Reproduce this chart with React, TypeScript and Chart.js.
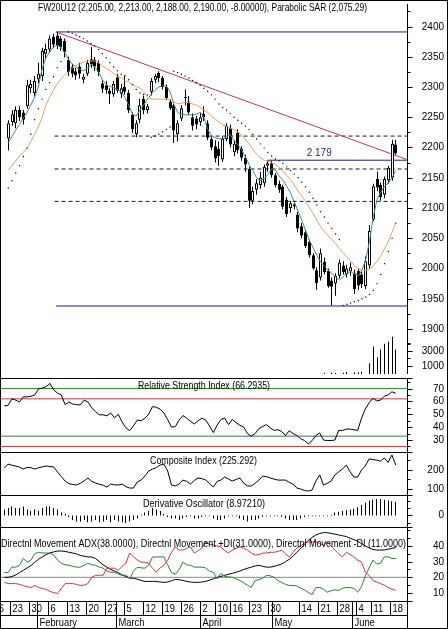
import React, { useEffect, useRef } from 'react';
import { Chart, registerables } from 'chart.js';

Chart.register(...registerables);

const FONT = '"Liberation Sans", Arial, sans-serif';

// ---------------- data (one entry per trading day, 19 Jan 2012 .. 19 Jun 2012) ----------------
const openP = [
  2215, 2242, 2240, 2262, 2258, 2268, 2298, 2290, 2313, 2318,
  2355, 2362, 2383, 2385, 2380, 2376, 2345, 2333, 2326, 2334,
  2312, 2322, 2346, 2345, 2340, 2306, 2303, 2294, 2288, 2316,
  2289, 2300, 2290, 2254, 2222, 2246, 2280, 2262, 2292, 2312,
  2323, 2315, 2300, 2276, 2270, 2222, 2248, 2282, 2276, 2250,
  2248, 2242, 2256, 2240, 2214, 2202, 2198, 2180, 2214, 2232,
  2192, 2224, 2198, 2183, 2165, 2112, 2130, 2138, 2141, 2170,
  2174, 2154, 2140, 2135, 2114, 2100, 2103, 2089, 2070, 2060,
  2044, 2022, 1997, 1985, 2011, 1996, 1980, 1975, 1988, 2005,
  1990, 1995, 1992, 1996, 1990, 1971, 2005, 2081, 2148, 2138,
  2122, 2146, 2150, 2205,
];
const highP = [
  2245, 2262, 2268, 2268, 2262, 2312, 2312, 2318, 2340, 2365,
  2372, 2385, 2388, 2391, 2384, 2380, 2350, 2338, 2332, 2340,
  2322, 2345, 2366, 2350, 2344, 2312, 2310, 2298, 2310, 2322,
  2305, 2318, 2295, 2258, 2245, 2280, 2286, 2272, 2315, 2322,
  2326, 2318, 2304, 2280, 2272, 2245, 2270, 2296, 2285, 2256,
  2252, 2258, 2268, 2245, 2218, 2212, 2210, 2218, 2240, 2238,
  2212, 2230, 2202, 2188, 2168, 2135, 2148, 2160, 2172, 2179,
  2178, 2158, 2145, 2138, 2118, 2112, 2112, 2094, 2075, 2064,
  2048, 2025, 2002, 2033, 2018, 2000, 1985, 1992, 2015, 2012,
  2006, 2010, 1998, 2000, 1995, 2020, 2072, 2140, 2160, 2142,
  2152, 2170, 2213, 2213,
];
const lowP = [
  2195, 2236, 2232, 2244, 2238, 2264, 2290, 2284, 2306, 2310,
  2345, 2356, 2364, 2363, 2360, 2350, 2318, 2316, 2312, 2314,
  2306, 2318, 2332, 2327, 2318, 2290, 2289, 2272, 2284, 2290,
  2282, 2287, 2257, 2224, 2217, 2240, 2255, 2256, 2286, 2306,
  2308, 2296, 2278, 2262, 2208, 2210, 2244, 2270, 2254, 2228,
  2230, 2236, 2244, 2212, 2196, 2175, 2170, 2176, 2210, 2200,
  2186, 2190, 2178, 2160, 2100, 2106, 2122, 2132, 2135, 2160,
  2150, 2134, 2125, 2098, 2085, 2092, 2098, 2060, 2050, 2034,
  2018, 1998, 1965, 1980, 1990, 1968, 1939, 1955, 1984, 1990,
  1985, 1988, 1958, 1965, 1968, 1966, 2000, 2078, 2128, 2112,
  2116, 2140, 2145, 2188,
];
const closeP = [
  2240, 2255, 2262, 2250, 2246, 2303, 2305, 2310, 2322, 2360,
  2363, 2380, 2370, 2368, 2366, 2358, 2325, 2322, 2319, 2322,
  2317, 2340, 2337, 2334, 2325, 2297, 2295, 2289, 2305, 2294,
  2298, 2292, 2262, 2230, 2240, 2270, 2262, 2268, 2310, 2318,
  2315, 2300, 2282, 2265, 2228, 2240, 2265, 2283, 2258, 2236,
  2238, 2250, 2250, 2216, 2200, 2182, 2186, 2214, 2236, 2205,
  2206, 2195, 2183, 2172, 2112, 2128, 2141, 2150, 2168, 2174,
  2154, 2138, 2130, 2102, 2090, 2108, 2106, 2066, 2054, 2037,
  2022, 2000, 1976, 2025, 1994, 1971, 1970, 1988, 2010, 1994,
  2000, 2002, 1966, 1972, 1974, 2012, 2062, 2136, 2134, 2118,
  2148, 2166, 2206, 2190,
];
const maShort = [
  2208, 2218, 2229, 2238, 2249, 2258, 2270, 2283, 2300, 2330,
  2348, 2358, 2366, 2369, 2366, 2357, 2346, 2338, 2333, 2329,
  2327, 2331, 2337, 2333, 2325, 2312, 2304, 2301, 2299, 2296,
  2292, 2283, 2270, 2255, 2252, 2262, 2270, 2280, 2288, 2295,
  2300, 2302, 2302, 2292, 2272, 2258, 2255, 2254, 2254, 2254,
  2255, 2258, 2250, 2230, 2220, 2216, 2215, 2214, 2218, 2221,
  2212, 2205, 2196, 2185, 2172, 2162, 2150, 2145, 2149, 2155,
  2165, 2163, 2153, 2146, 2136, 2125, 2110, 2095, 2080, 2063,
  2047, 2035, 2022, 2011, 2004, 1997, 1992, 1986, 1981, 1986,
  1992, 1995, 1991, 1988, 1997, 2015, 2045, 2085, 2114, 2126,
  2136, 2141, 2150, 2162,
];
const maLong = [
  2163, 2170, 2178, 2186, 2192, 2199, 2210, 2222, 2234, 2250,
  2270, 2283, 2295, 2305, 2313, 2320, 2325, 2331, 2335, 2338,
  2341, 2343, 2343, 2343, 2340, 2335, 2331, 2327, 2322, 2318,
  2315, 2311, 2308, 2304, 2301, 2298, 2292, 2284, 2280, 2280,
  2280, 2280, 2280, 2280, 2276, 2272, 2273, 2275, 2274, 2272,
  2270, 2266, 2262, 2258, 2252, 2247, 2242, 2238, 2235, 2232,
  2229, 2226, 2220, 2214, 2206, 2197, 2189, 2183, 2179, 2177,
  2175, 2172, 2167, 2161, 2154, 2147, 2138, 2128, 2120, 2111,
  2101, 2091, 2080, 2069, 2061, 2054, 2048, 2041, 2033, 2026,
  2018, 2012, 2005, 2000, 1997, 1997, 1999, 2004, 2012, 2021,
  2033, 2045, 2060, 2076,
];
const sarP = [
  2133, 2145, 2158, 2170, 2185, 2199, 2222, 2246, 2264, 2280,
  2296, 2307, 2317, 2332, 2342, 2350, 2391, 2389, 2386, 2383,
  2380, 2376, 2372, 2368, 2362, 2355, 2348, 2340, 2333, 2327,
  2321, 2319, 2312, 2304, 2296, 2290, 2288, 2287, 2217, 2219,
  2222, 2226, 2230, 2234, 2326, 2324, 2321, 2318, 2315, 2311,
  2307, 2303, 2298, 2293, 2287, 2280, 2272, 2266, 2262, 2256,
  2250, 2245, 2240, 2235, 2230, 2222, 2214, 2206, 2199, 2192,
  2186, 2181, 2178, 2174, 2168, 2162, 2156, 2150, 2143, 2135,
  2126, 2116, 2105, 2094, 2085, 2075, 2066, 2057, 2048, 1939,
  1941, 1943, 1945, 1947, 1950, 1953, 1957, 1964, 1975, 1990,
  2008, 2028, 2050, 2075,
];
const volumeK = [
  null, null, null, null, null, null, null, null, null, null,
  null, null, null, null, null, null, null, null, null, null,
  null, null, null, null, null, null, null, null, null, null,
  null, null, null, null, null, null, null, null, null, null,
  null, null, null, null, null, null, null, null, null, null,
  null, null, null, null, null, null, null, null, null, null,
  null, null, null, null, null, null, null, null, null, null,
  null, null, null, null, null, null, null, null, null, null,
  null, null, null, null, 150, null, 200, 120, null, 150,
  250, null, 180, 220, 300, null, 1375, 3500, 2125, 3125,
  3875, 4125, 4750, 3125,
];
const rsiV = [
  56.5, 57, 62, 61, 59.6, 63.5, 63.5, 64, 65, 69.6,
  70.4, 71.5, 74, 69, 66.5, 65, 57.5, 59.6, 58, 57.5,
  57.3, 61, 59.6, 55, 52, 49.6, 49.6, 48.8, 51, 47.3,
  50, 44, 39.5, 37.3, 41, 45.5, 45, 47, 50, 56,
  55.5, 54, 51, 45.8, 40, 40.5, 45.5, 49, 47, 44.5,
  42.5, 45, 47, 45.5, 41, 35.8, 41.5, 46, 47, 42,
  46, 43.5, 41.5, 40, 35, 33, 35, 39, 40.5, 42,
  39.5, 37.5, 38, 36.5, 33.5, 37.3, 35, 33.5, 31, 29.6,
  27, 29.5, 33.5, 35.5, 30, 29.6, 29.6, 30, 37.5, 37.5,
  38.5, 38.5, 38, 37.5, 47, 54, 59, 62.5, 60.4, 61,
  64, 65, 67.5, 66.3,
];
const compositeV = [
  210, 231, 225, 221, 215, 205, 214, 212, 205, 212,
  216, 221, 218, 216, 190, 165, 142, 128, 124, 121,
  130, 142, 158, 140, 132, 125, 120, 110, 126, 122,
  121, 126, 112, 105, 105, 137, 147, 168, 195, 205,
  212, 226, 231, 195, 120, 116, 126, 147, 140, 126,
  145, 158, 155, 147, 130, 110, 140, 147, 163, 152,
  142, 150, 158, 130, 116, 116, 130, 147, 168, 165,
  158, 152, 147, 147, 147, 135, 125, 105, 100, 92,
  89, 95, 142, 174, 121, 130, 142, 174, 190, 205,
  226, 190, 163, 163, 200, 221, 258, 255, 252, 247,
  263, 240, 279, 226,
];
const derivV = [
  4, 5, 6, 5, 5, 6, 4, 3, 4, 3,
  5, 6, 6, 5, 4, 2, 1, -1, -3, -4,
  -4, -3, -4.5, -4, -3, -4.5, -4, -3, -4.5, -3,
  -4, -4.5, -5, -4, -3, -2, 0.5, 2, 3, 5,
  4, 3, 1, -1, -2, -2, -3, -2, -1, -0.5,
  -2, -2, -1, -0.5, -0.5, -2, -3, -3, -2, -0.5,
  -0.5, -0.5, -2, -3, -4, -3, -3, -2, -1, -0.5,
  -0.5, -0.5, -0.5, -1, -2, -3, -3, -3, -2, -1,
  -0.5, -0.5, -0.5, -0.5, -0.5, -0.5, 0.5, 2, 2.5, 3,
  3.5, 4, 4.5, 5.5, 7, 8.5, 10, 10.5, 11, 11,
  10.5, 10, 9.5, 8.97,
];
const adxV = [
  20, 20, 20.5, 21.5, 23, 24.5, 26, 27.5, 29.5, 31.5,
  33, 34.5, 35.5, 36.2, 36.8, 36.8, 36.5, 36, 35.5, 35,
  34, 33.5, 33, 33, 32, 30, 28, 26.5, 25, 24,
  23, 21.5, 20.5, 19.5, 19.4, 18.8, 18, 17.4, 17.4, 17.4,
  17.4, 17, 16.8, 17, 17.8, 18.7, 18.5, 18, 17.4, 17,
  16.8, 16.8, 17, 17.4, 18.2, 19, 20, 20.5, 21.3, 22,
  22.5, 23.2, 24, 25, 25.8, 26.5, 27.2, 27.7, 27, 26.5,
  26.5, 27, 27.7, 28.5, 30, 31.5, 33.5, 36, 38.5, 41,
  43.5, 45.5, 47, 48, 48.5, 48.5, 48, 47.5, 47, 46.5,
  46, 45, 44, 43, 41.5, 40, 38.8, 37.8, 37.4, 37.4,
  37.4, 38, 38.5, 39,
];
const plusDiV = [
  23, 23, 26.5, 26.5, 27.7, 32, 29.7, 31, 35, 36,
  35.5, 35.5, 35.5, 34.2, 31, 29, 28, 27.7, 27, 26.5,
  26.5, 27.7, 29, 28, 27.7, 26.5, 25.8, 24, 23.2, 23.2,
  22, 21.3, 21.5, 19, 24, 26.5, 26, 25.8, 27.7, 33,
  33, 33, 33, 28, 23, 22, 25, 29.7, 28, 27.7,
  26.5, 26.5, 26.5, 26, 24, 23.2, 19, 22.5, 20.6, 20.3,
  20, 19, 18, 16.5, 15, 13.5, 18, 18.5, 19.5, 21.3,
  21, 20, 18, 16.8, 15.5, 14.8, 14.8, 14.5, 13, 12,
  10.3, 9, 13.5, 13.5, 12.5, 10.5, 11.5, 12, 11.6, 13,
  13.5, 13.5, 12.9, 10.5, 14, 21, 26, 31, 28.5, 29,
  33, 33, 32, 32,
];
const minusDiV = [
  16.8, 16, 16, 16, 15.5, 14.8, 14, 13.5, 14.8, 13.5,
  12.9, 12.3, 11, 10.3, 9.7, 12.9, 16, 16, 16, 15.5,
  14.8, 15, 16, 20, 21.3, 21.3, 21.3, 25.8, 25.8, 25.8,
  24.5, 27, 29, 35.5, 33, 31, 29.7, 29.5, 29, 25.8,
  23.2, 26, 27.7, 31, 36, 39.4, 37.4, 37.4, 38.5, 39.4,
  35.5, 37, 38.7, 42.6, 41, 40.6, 40, 39.4, 37, 35.5,
  37.4, 38.5, 39.4, 38.5, 37.4, 35.5, 34.2, 34.5, 35.5, 35.5,
  36, 36, 36.5, 37.4, 35, 33, 36, 38.7, 40, 42,
  42.6, 42.6, 42.6, 41.5, 40.6, 42.6, 40, 37.4, 35, 33,
  36, 34.5, 33, 31, 29.7, 23.2, 21.3, 18, 17, 16,
  15, 13.5, 12.5, 11.6,
];

// reference levels
const peakIdx = 12.7;
const peakHigh = 2391;
const troughLow = 1938;
const fibStartIdx = 12.3;
const fibLevels = [2218.9, 2164.5, 2110.9];
const trendEndValue = 2180;
const resistanceIdx = 69;
const resistanceLevel = 2179;
const resistanceLabelIdx = 82.5;
const rsiGreenLevels = [70, 33];
const rsiRedLevels = [62, 25];
const dmiMidLevel = 20;

// ticks
const priceMajor = [1900, 1950, 2000, 2050, 2100, 2150, 2200, 2250, 2300, 2350, 2400];
const priceMinor = [1875, 1925, 1975, 2025, 2075, 2125, 2175, 2225, 2275, 2325, 2375, 2425];
const volMajor = [1000, 3000];
const volMinor = [2000, 4000];
const rsiMajor = [30, 40, 50, 60, 70];
const rsiMinor = [25, 35, 45, 55, 65, 75];
const ciMajor = [100, 200];
const ciMinor = [150, 250];
const doMajor = [0];
const doMinor = [-5, 5, 10];
const dmiMajor = [10, 20, 30, 40];
const dmiMinor = [15, 25, 35, 45, 50];

// date axis
const dayLabels = ['16', '23', '30', '6', '13', '20', '27', '5', '12', '19', '26', '2', '10', '16', '23', '30', '14', '21', '28', '4', '11', '18'];
const dayLabelIdx = [-3, 2, 7, 12, 17, 22, 27, 32, 37, 42, 47, 52, 56, 60, 65, 70, 78, 83, 88, 93, 97, 102];
const monthLabels = ['February', 'March', 'April', 'May', 'June'];
const monthIdx = [9, 30, 52, 71, 92];

// scale ranges
const X_MIN = -1.13;
const X_MAX = 105.97;
const PRICE_MIN = 1825.6;
const PRICE_MAX = 2437.2;
const VOL_MAX = 47250;
const RSI_MIN = 20.7;
const RSI_MAX = 78.2;
const CI_MIN = 68.4;
const CI_MAX = 294.7;
const DO_MIN = -7.67;
const DO_MAX = 13.67;
const DMI_MIN = 4.9;
const DMI_MAX = 52.1;

const NAVY = '#1f1f80';
const GREEN = '#2f862f';
const RED = '#c23a3a';

// ---------------- helpers ----------------
const pts = (arr: any[]) => arr.map((v, i) => ({ x: i, y: v }));

function hline(ctx: CanvasRenderingContext2D, x1: number, x2: number, y: number) {
  ctx.beginPath();
  ctx.moveTo(x1, y);
  ctx.lineTo(x2, y);
  ctx.stroke();
}
function vline(ctx: CanvasRenderingContext2D, x: number, y1: number, y2: number) {
  ctx.beginPath();
  ctx.moveTo(x, y1);
  ctx.lineTo(x, y2);
  ctx.stroke();
}
function fitText(ctx: CanvasRenderingContext2D, text: string, left: number, cy: number, width: number, size: number, color = '#000') {
  ctx.save();
  ctx.font = `${size}px ${FONT}`;
  ctx.fillStyle = color;
  ctx.textBaseline = 'middle';
  ctx.textAlign = 'left';
  const w = ctx.measureText(text).width;
  ctx.translate(left, cy);
  ctx.scale(width / w, 1);
  ctx.fillText(text, 0, 0);
  ctx.restore();
}
function scaledText(ctx: CanvasRenderingContext2D, text: string, left: number, cy: number, size: number, sx: number) {
  ctx.save();
  ctx.font = `${size}px ${FONT}`;
  ctx.fillStyle = '#000';
  ctx.textBaseline = 'middle';
  ctx.textAlign = 'left';
  ctx.translate(left, cy);
  ctx.scale(sx, 1);
  ctx.fillText(text, 0, 0);
  ctx.restore();
}

const refLine = (x0: number, x1: number, v: number, color: string, dash: number[] = [], yAxisID = 'y') => ({
  type: 'line',
  data: [{ x: x0, y: v }, { x: x1, y: v }],
  borderColor: color,
  borderWidth: 1,
  borderDash: dash,
  pointRadius: 0,
  yAxisID,
  order: 20,
});

const lineDs = (arr: number[], color: string, order = 1) => ({
  type: 'line',
  data: pts(arr),
  borderColor: color,
  borderWidth: 1,
  pointRadius: 0,
  tension: 0,
  order,
});

// pixel-snap bar centres so 1px / 3px bars render crisp (positions still come from the x scale)
const snapBars = {
  id: 'snapBars',
  beforeDatasetsDraw(chart: any) {
    chart.data.datasets.forEach((ds: any, i: number) => {
      const meta = chart.getDatasetMeta(i);
      if (meta.type !== 'bar') return;
      meta.data.forEach((el: any) => {
        if (el && typeof el.x === 'number' && !el.$snapped) {
          el.x = Math.floor(el.x) + 0.5;
          el.$snapped = true;
        }
      });
    });
  },
};

type AxisSpec = { id: string; major: number[]; minor: number[]; labels: boolean };

function panelPlugin(p: { title: string; tx: number; tw: number; ty: number; axes: AxisSpec[]; isTop?: boolean; extra?: (chart: any, axisX: number) => void }) {
  return {
    id: 'panelDeco',
    afterDraw(chart: any) {
      const ctx = chart.ctx as CanvasRenderingContext2D;
      const area = chart.chartArea;
      const W = chart.width;
      const H = chart.height;
      const axisX = Math.round(area.right) + 0.5;
      ctx.save();
      ctx.strokeStyle = '#000';
      ctx.lineWidth = 1;
      ctx.setLineDash([]);
      vline(ctx, 0.5, 0, H);
      vline(ctx, W - 0.5, 0, H);
      vline(ctx, axisX, area.top, area.bottom);
      if (p.isTop) hline(ctx, 0, W, 0.5);
      else hline(ctx, 0, axisX + 5, 0.5);
      ctx.fillStyle = '#000';
      ctx.font = `10px ${FONT}`;
      ctx.textAlign = 'right';
      ctx.textBaseline = 'middle';
      for (const a of p.axes) {
        const s = chart.scales[a.id];
        a.major.forEach((v) => {
          const y = Math.round(s.getPixelForValue(v)) + 0.5;
          hline(ctx, axisX, axisX + 5, y);
          if (a.labels) ctx.fillText(String(v), W - 4, y);
        });
        a.minor.forEach((v) => {
          const y = Math.round(s.getPixelForValue(v)) + 0.5;
          hline(ctx, axisX, axisX + 3, y);
        });
      }
      fitText(ctx, p.title, p.tx, p.ty, p.tw, 11);
      if (p.extra) p.extra(chart, axisX);
      ctx.restore();
    },
  };
}

function baseOptions(scales: any, padBottom = 0) {
  return {
    animation: false,
    responsive: false,
    devicePixelRatio: 1,
    events: [],
    layout: { padding: { left: 0, right: 41, top: 0, bottom: padBottom } },
    plugins: { legend: { display: false }, tooltip: { enabled: false }, title: { display: false } },
    scales: {
      x: { type: 'linear', min: X_MIN, max: X_MAX, offset: false, display: false, grid: { offset: false } },
      ...scales,
    },
  };
}

const thinBar = { barThickness: 1, grouped: false, inflateAmount: 0, borderWidth: 0 };

// ---------------- configs ----------------
function mainConfig(): any {
  const idx = closeP.map((_, i) => i);
  const wicks = idx.map((i) => ({ x: i, y: [lowP[i], highP[i]] }));
  const bodies = idx.map((i) => ({ x: i, y: [openP[i], closeP[i]] }));
  const bodyColors = idx.map((i) => (closeP[i] >= openP[i] ? '#ffffff' : '#000000'));
  return {
    type: 'bar',
    data: {
      datasets: [
        ...fibLevels.map((v) => refLine(fibStartIdx, X_MAX, v, '#15153a', [4, 3])),
        refLine(peakIdx, X_MAX, peakHigh, NAVY),
        refLine(peakIdx, X_MAX, troughLow, NAVY),
        refLine(resistanceIdx, X_MAX, resistanceLevel, NAVY),
        {
          type: 'line',
          data: [{ x: peakIdx, y: peakHigh }, { x: X_MAX, y: trendEndValue }],
          borderColor: '#b23a5c',
          borderWidth: 1,
          pointRadius: 0,
          yAxisID: 'y',
          order: 19,
        },
        { type: 'bar', data: pts(volumeK), yAxisID: 'yv', backgroundColor: '#000', ...thinBar, order: 6 },
        { type: 'bar', data: wicks, yAxisID: 'y', backgroundColor: '#000', ...thinBar, order: 5 },
        {
          type: 'bar',
          data: bodies,
          yAxisID: 'y',
          backgroundColor: bodyColors,
          borderColor: '#000',
          borderWidth: 1,
          borderSkipped: false,
          barThickness: 3,
          inflateAmount: 0,
          minBarLength: 1,
          grouped: false,
          order: 4,
        },
        { ...lineDs(maLong, '#e0a264', 2), yAxisID: 'y' },
        { ...lineDs(maShort, '#3f8c9c', 2), yAxisID: 'y' },
        {
          type: 'line',
          data: pts(sarP),
          yAxisID: 'y',
          showLine: false,
          pointRadius: 0.7,
          pointBackgroundColor: '#000',
          pointBorderWidth: 0,
          order: 1,
        },
      ],
    },
    options: baseOptions({
      y: { type: 'linear', min: PRICE_MIN, max: PRICE_MAX, display: false },
      yv: { type: 'linear', min: 0, max: VOL_MAX, display: false },
    }),
    plugins: [
      snapBars,
      panelPlugin({
        title: 'FW20U12 (2,205.00, 2,213.00, 2,188.00, 2,190.00, -8.00000), Parabolic SAR (2,075.29)',
        tx: 38,
        tw: 329,
        ty: 8,
        isTop: true,
        axes: [
          { id: 'y', major: priceMajor, minor: priceMinor, labels: true },
          { id: 'yv', major: volMajor, minor: volMinor, labels: true },
        ],
        extra: (chart: any) => {
          const ctx = chart.ctx;
          const x = chart.scales.x.getPixelForValue(resistanceLabelIdx);
          const y = chart.scales.y.getPixelForValue(resistanceLevel);
          fitText(ctx, '2 179', x - 12, y - 7.5, 25, 11, NAVY);
        },
      }),
    ],
  };
}

function rsiConfig(): any {
  return {
    type: 'line',
    data: {
      datasets: [
        ...rsiGreenLevels.map((v) => refLine(X_MIN, X_MAX, v, GREEN)),
        ...rsiRedLevels.map((v) => refLine(X_MIN, X_MAX, v, RED)),
        { ...lineDs(rsiV, '#000'), yAxisID: 'y' },
      ],
    },
    options: baseOptions({ y: { type: 'linear', min: RSI_MIN, max: RSI_MAX, display: false } }),
    plugins: [
      panelPlugin({
        title: 'Relative Strength Index (66.2935)',
        tx: 138,
        tw: 132,
        ty: 8,
        axes: [{ id: 'y', major: rsiMajor, minor: rsiMinor, labels: true }],
      }),
    ],
  };
}

function ciConfig(): any {
  return {
    type: 'line',
    data: { datasets: [{ ...lineDs(compositeV, '#000'), yAxisID: 'y' }] },
    options: baseOptions({ y: { type: 'linear', min: CI_MIN, max: CI_MAX, display: false } }),
    plugins: [
      panelPlugin({
        title: 'Composite Index (225.292)',
        tx: 150,
        tw: 107,
        ty: 9,
        axes: [{ id: 'y', major: ciMajor, minor: ciMinor, labels: true }],
      }),
    ],
  };
}

function doConfig(): any {
  return {
    type: 'bar',
    data: {
      datasets: [{ type: 'bar', data: pts(derivV), yAxisID: 'y', backgroundColor: '#000', ...thinBar }],
    },
    options: baseOptions({ y: { type: 'linear', min: DO_MIN, max: DO_MAX, display: false } }),
    plugins: [
      snapBars,
      panelPlugin({
        title: 'Derivative Oscillator (8.97210)',
        tx: 143,
        tw: 122,
        ty: 9,
        axes: [{ id: 'y', major: doMajor, minor: doMinor, labels: true }],
      }),
    ],
  };
}

function dmiConfig(): any {
  return {
    type: 'line',
    data: {
      datasets: [
        refLine(X_MIN, X_MAX, dmiMidLevel, '#8a8a8a'),
        { ...lineDs(minusDiV, '#c43c3c'), yAxisID: 'y' },
        { ...lineDs(plusDiV, '#2f7f2f'), yAxisID: 'y' },
        { ...lineDs(adxV, '#000'), yAxisID: 'y' },
      ],
    },
    options: baseOptions({ y: { type: 'linear', min: DMI_MIN, max: DMI_MAX, display: false } }, 28),
    plugins: [
      panelPlugin({
        title: 'Directnl Movement ADX(38.0000), Directnl Movement +DI(31.0000), Directnl Movement -DI (11.0000)',
        tx: 1,
        tw: 405,
        ty: 17,
        axes: [{ id: 'y', major: dmiMajor, minor: dmiMinor, labels: true }],
        extra: (chart: any, axisX: number) => {
          const ctx = chart.ctx as CanvasRenderingContext2D;
          const sx = chart.scales.x;
          const area = chart.chartArea;
          const W = chart.width;
          const y0 = Math.round(area.bottom) + 0.5;
          const yMid = y0 + 14;
          const yEnd = chart.height - 0.5;
          ctx.strokeStyle = '#000';
          hline(ctx, 0, axisX + 5, y0);
          hline(ctx, 0, axisX, yMid);
          hline(ctx, 0, W, yEnd);
          vline(ctx, axisX, y0, yEnd);
          dayLabelIdx.forEach((d, k) => {
            const x = Math.round(sx.getPixelForValue(d - 0.5)) + 0.5;
            vline(ctx, x, y0, yMid);
            scaledText(ctx, dayLabels[k], x + 2, y0 + 7.5, 11, 0.85);
          });
          monthIdx.forEach((m, k) => {
            const x = Math.round(sx.getPixelForValue(m - 0.5)) + 0.5;
            vline(ctx, x, y0, yEnd);
            scaledText(ctx, monthLabels[k], x + 2, yMid + 7, 11, 0.85);
          });
        },
      }),
    ],
  };
}

// ---------------- component ----------------
export default function App() {
  const mainRef = useRef<HTMLCanvasElement>(null);
  const rsiRef = useRef<HTMLCanvasElement>(null);
  const ciRef = useRef<HTMLCanvasElement>(null);
  const doRef = useRef<HTMLCanvasElement>(null);
  const dmiRef = useRef<HTMLCanvasElement>(null);

  useEffect(() => {
    const charts = [
      new Chart(mainRef.current as HTMLCanvasElement, mainConfig()),
      new Chart(rsiRef.current as HTMLCanvasElement, rsiConfig()),
      new Chart(ciRef.current as HTMLCanvasElement, ciConfig()),
      new Chart(doRef.current as HTMLCanvasElement, doConfig()),
      new Chart(dmiRef.current as HTMLCanvasElement, dmiConfig()),
    ];
    return () => charts.forEach((c) => c.destroy());
  }, []);

  const cs = (top: number, h: number): React.CSSProperties => ({
    position: 'absolute',
    left: 0,
    top,
    width: 448,
    height: h,
    display: 'block',
  });

  return (
    <div style={{ position: 'fixed', left: 0, top: 0, width: 448, height: 629, background: '#fff', overflow: 'hidden' }}>
      <canvas ref={mainRef} width={448} height={378} style={cs(0, 378)} />
      <canvas ref={rsiRef} width={448} height={74} style={cs(378, 74)} />
      <canvas ref={ciRef} width={448} height={43} style={cs(452, 43)} />
      <canvas ref={doRef} width={448} height={32} style={cs(495, 32)} />
      <canvas ref={dmiRef} width={448} height={102} style={cs(527, 102)} />
    </div>
  );
}
